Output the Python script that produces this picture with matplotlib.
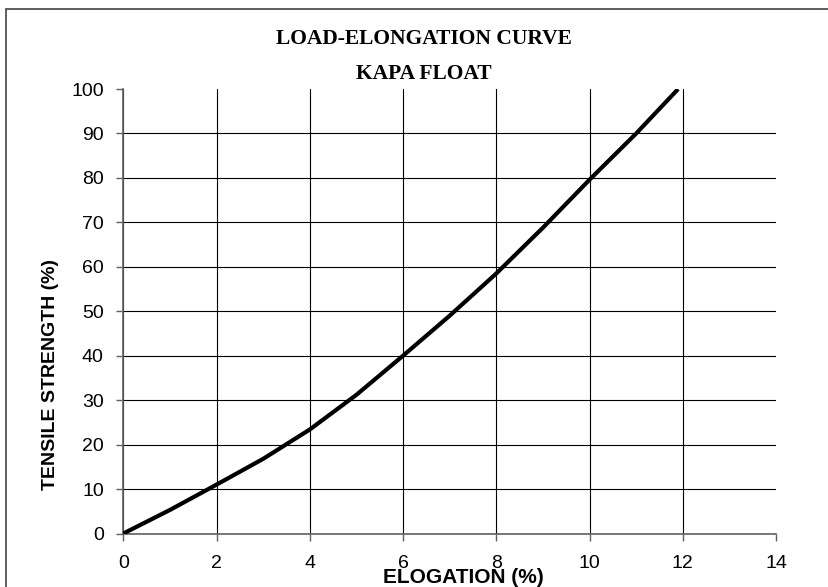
import matplotlib
matplotlib.use("Agg")
from matplotlib import pyplot
from matplotlib.patches import Rectangle

# data
elongation = [0, 1, 2, 3, 4, 5, 6, 7, 8, 9, 10, 11, 11.9]
strength = [0, 5.3, 11.0, 16.8, 23.4, 31.2, 40.0, 49.0, 58.5, 68.8, 79.6, 90.0, 100.0]

x_ticks = [0, 2, 4, 6, 8, 10, 12, 14]
y_ticks = [0, 10, 20, 30, 40, 50, 60, 70, 80, 90, 100]

TICKSIZE = 14
LABELSIZE = 14
TITLESIZE = 15.5

pyplot.rcParams["font.family"] = ["Liberation Sans", "DejaVu Sans"]

fig = pyplot.figure(figsize=(8.29, 5.87), dpi=100)
fig.patch.set_facecolor("white")

# outer chart frame (cut off at right and bottom like the reference)
fig.patches.append(Rectangle((6.3 / 829, -0.05), 1.0, 1 - 8.5 / 587 + 0.05,
                             transform=fig.transFigure, fill=False,
                             edgecolor="#505050", linewidth=1.3))

ax = fig.add_axes([0.1487, 0.0911, 0.7874, 0.7572])
ax.plot(elongation, strength, color="black", linewidth=3.0, solid_capstyle="butt", zorder=3)

ax.set_xlim(0, 14)
ax.set_ylim(0, 100)
ax.set_xticks(x_ticks)
ax.set_yticks(y_ticks)
ax.tick_params(direction="out", length=5, width=1, color="#606060",
               labelsize=TICKSIZE)
ax.tick_params(axis="x", pad=10.5)
ax.tick_params(axis="y", pad=9)

ax.grid(True, color="black", linewidth=0.8, zorder=1)
ax.get_xgridlines()[-1].set_visible(False)
ax.get_ygridlines()[-1].set_visible(False)
ax.set_axisbelow(True)

for side in ["top", "right"]:
    ax.spines[side].set_visible(False)
for side in ["left", "bottom"]:
    ax.spines[side].set_color("#606060")
    ax.spines[side].set_linewidth(1.2)

ax.set_xlabel("ELOGATION (%)", fontsize=15, fontweight="bold")
ax.xaxis.set_label_coords(0.521, -0.099)
ax.xaxis.label.set_va("center")
ax.set_ylabel("TENSILE STRENGTH (%)", fontsize=LABELSIZE, fontweight="bold")
ax.yaxis.set_label_coords(-0.1108, 0.357)
ax.yaxis.label.set_va("center")

fig.text(0.511, 1 - 39 / 587, "LOAD-ELONGATION CURVE", ha="center", va="center",
         family="Liberation Serif", fontweight="bold", fontsize=TITLESIZE)
fig.text(0.511, 1 - 74 / 587, "KAPA FLOAT", ha="center", va="center",
         family="Liberation Serif", fontweight="bold", fontsize=TITLESIZE)

fig.savefig("out.png", dpi=100, facecolor="white")
